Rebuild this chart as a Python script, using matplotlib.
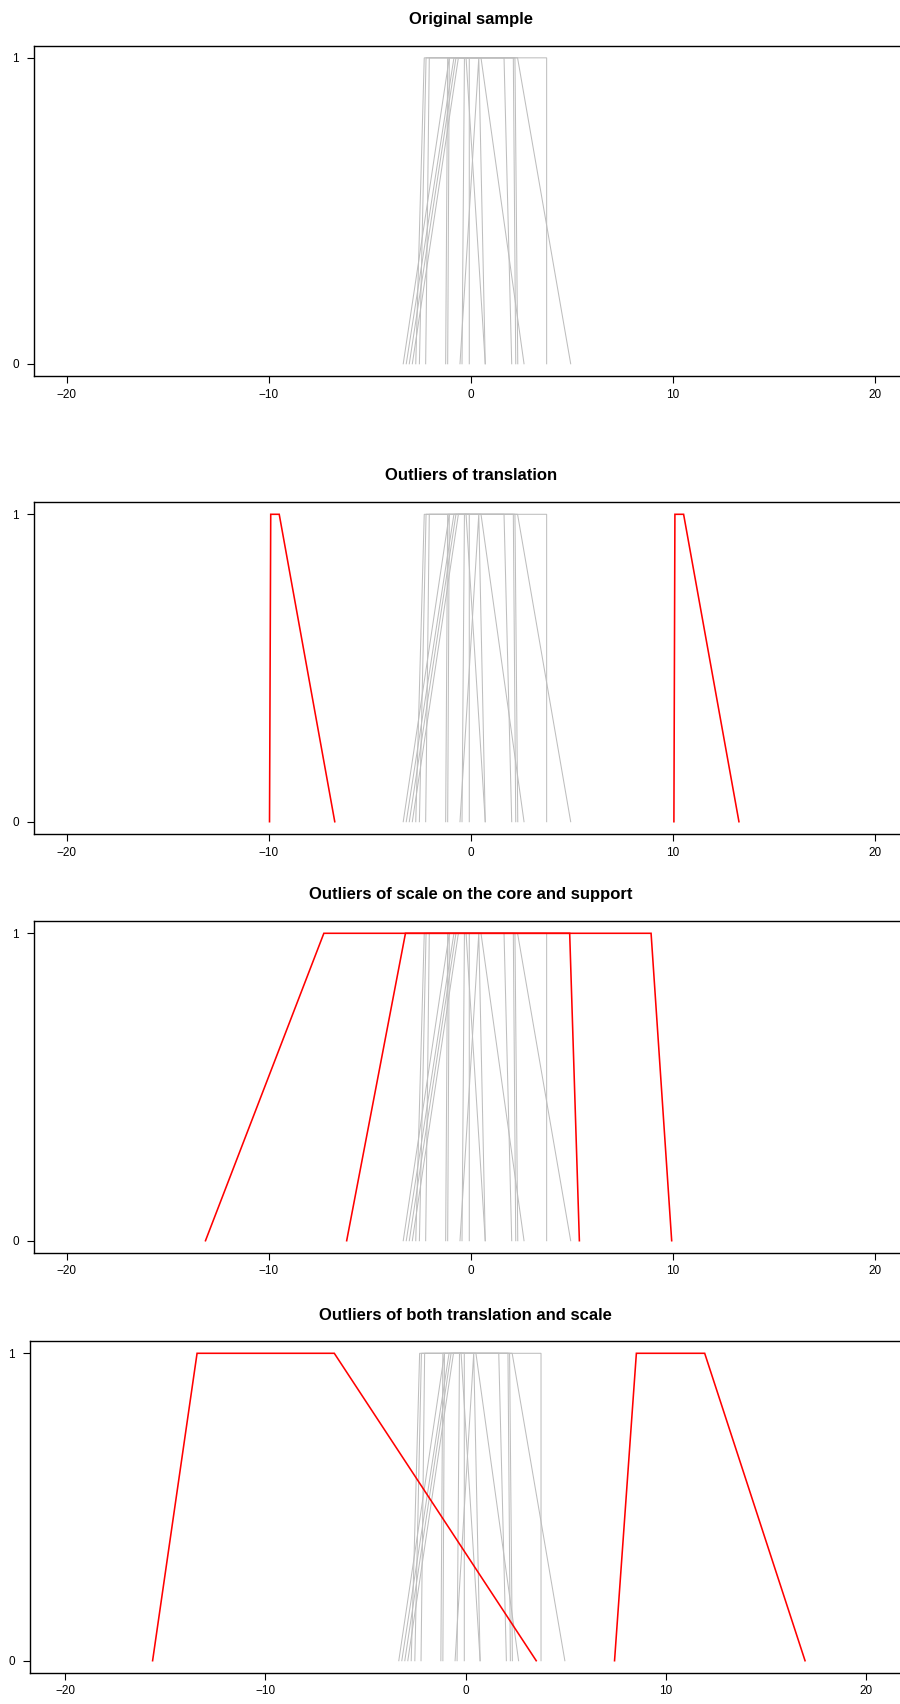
import matplotlib
matplotlib.use("Agg")
import matplotlib.pyplot as plt

plt.rcParams['font.family'] = ['Liberation Sans', 'DejaVu Sans']

# Gray sample of trapezoidal fuzzy numbers: (a, b, c, d)
sample_a = [-3.34, -3.19, -3.04, -2.89, -2.72, -2.54, -2.23, -1.24, -0.53, -0.43]
sample_b = [-1.06, -0.83, -0.73, -0.61, -2.30, -2.21, -2.05, -1.14, 0.40, -0.31]
sample_c = [-0.23, 0.51, 1.65, 2.11, 3.76, 2.32, 2.19, -1.06, 0.40, -0.07]
sample_d = [0.72, 2.64, 2.03, 2.23, 3.76, 4.95, 2.33, -1.14, 0.72, -0.07]

# Outliers per panel: lists of (a, b, c, d)
outliers_translation = [(-9.96, -9.90, -9.48, -6.73), (10.06, 10.11, 10.54, 13.28)]
outliers_scale = [(-13.13, -7.27, 8.93, 9.95), (-6.14, -3.23, 4.90, 5.38)]
outliers_both = [(-15.63, -13.41, -6.56, 3.52), (7.43, 8.52, 11.93, 16.94)]

titles = ["Original sample", "Outliers of translation",
          "Outliers of scale on the core and support",
          "Outliers of both translation and scale"]
panel_outliers = [[], outliers_translation, outliers_scale, outliers_both]
xticks = [-20, -10, 0, 10, 20]
yticks = [0, 1]

W, H = 900, 1704
fig = plt.figure(figsize=(W / 100, H / 100), dpi=100)

# axes boxes in pixels: left, top, right, bottom
boxes = [(34.4, 45.6, 907, 376),
         (34.4, 502, 907, 834),
         (34.4, 921, 907, 1253),
         (30.4, 1341, 901, 1673)]
xlims = [(-21.6, 21.6), (-21.6, 21.6), (-21.6, 21.6), (-21.73, 21.73)]

for i, (box, title, outs) in enumerate(zip(boxes, titles, panel_outliers)):
    l, t, r, b = box
    ax = fig.add_axes([l / W, 1 - b / H, (r - l) / W, (b - t) / H])
    for a_, b_, c_, d_ in zip(sample_a, sample_b, sample_c, sample_d):
        ax.plot([a_, b_, c_, d_], [0, 1, 1, 0], color='#BEBEBE', lw=0.75,
                solid_joinstyle='miter')
    for (a_, b_, c_, d_) in outs:
        ax.plot([a_, b_, c_, d_], [0, 1, 1, 0], color='red', lw=1.15,
                solid_joinstyle='miter')
    ax.set_xlim(*xlims[i])
    ax.set_ylim(-0.04, 1.04)
    ax.set_xticks(xticks)
    ax.set_xticklabels([str(v).replace('-', '\u2212') for v in xticks])
    ax.set_yticks(yticks)
    ax.set_yticklabels([str(v) for v in yticks])
    ax.tick_params(axis='both', direction='out', length=5, width=0.8,
                   labelsize=8.5, colors='black')
    ax.tick_params(axis='x', pad=4)
    ax.tick_params(axis='y', pad=6)
    for s in ax.spines.values():
        s.set_linewidth(1.0)
        s.set_color('black')
    ax.text(0.5, 1 + 26 / (b - t), title,
            transform=ax.transAxes, ha='center', va='center',
            fontsize=12, fontweight='bold')

fig.savefig("out.png", dpi=100)
